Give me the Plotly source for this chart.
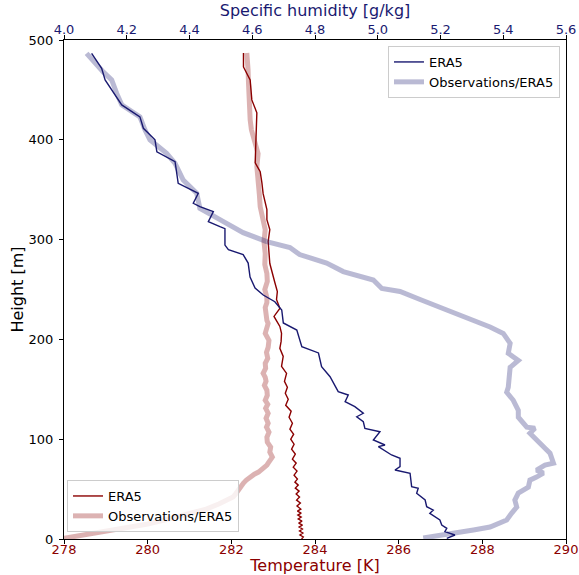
import plotly.graph_objects as go

# ---------------- data ----------------
# Temperature, ERA5 (K) vs height (m)
temp_era5_h = [0, 2, 4, 6, 8, 10, 12, 14, 16, 18, 20, 22, 24, 26, 28, 30, 33, 36, 39, 42, 45, 48,
               51, 54, 57, 60, 64, 68, 72, 76, 80, 85, 90, 95, 100, 105, 110, 116, 122, 128, 134,
               140, 146, 152, 158, 166, 173, 183, 191, 198, 206, 213, 223, 231, 240, 248, 257, 266,
               276, 287, 298, 310, 320, 330, 346, 357, 368, 377, 390, 405, 415, 427, 440, 450, 460,
               473, 487]
temp_era5 = [283.68, 283.72, 283.64, 283.71, 283.63, 283.70, 283.62, 283.70, 283.61, 283.69, 283.60,
             283.67, 283.59, 283.67, 283.58, 283.66, 283.57, 283.65, 283.56, 283.63, 283.55, 283.62,
             283.53, 283.60, 283.52, 283.58, 283.50, 283.57, 283.48, 283.55, 283.46, 283.53, 283.44,
             283.50, 283.42, 283.49, 283.40, 283.46, 283.38, 283.43, 283.30, 283.36, 283.29, 283.34,
             283.27, 283.32, 283.20, 283.24, 283.16, 283.19, 283.20, 283.16, 283.02, 283.16, 283.08,
             283.10, 283.04, 282.98, 282.92, 282.90, 282.88, 282.92, 282.85, 282.85, 282.76, 282.73,
             282.69, 282.57, 282.58, 282.60, 282.60, 282.61, 282.49, 282.47, 282.45, 282.29, 282.29]

# Temperature, observations (K) vs height (m)
temp_obs_h = [0, 2, 5, 10, 15, 20, 25, 30, 35, 40, 42, 45, 49, 52, 56, 59, 62, 65, 67, 70, 74, 76,
              79, 82, 87, 92, 97, 102, 107, 112, 116, 121, 126, 131, 135, 139, 144, 149, 154, 158,
              162, 166, 171, 176, 181, 187, 192, 199, 206, 212, 216, 219, 225, 232, 237, 242, 250,
              258, 266, 275, 286, 298, 310, 320, 333, 345, 360, 373, 386, 400, 410, 420, 430, 440,
              457, 470, 487]
temp_obs = [277.9, 278.2, 278.6, 279.4, 280.0, 280.5, 281.0, 281.4, 281.7, 281.95, 282.04, 282.10,
            282.16, 282.20, 282.29, 282.36, 282.45, 282.55, 282.65, 282.75, 282.85, 282.88, 282.95,
            282.98, 282.92, 282.94, 282.86, 282.85, 282.90, 282.84, 282.88, 282.83, 282.88, 282.82,
            282.87, 282.81, 282.86, 282.85, 282.79, 282.83, 282.81, 282.76, 282.82, 282.81, 282.87,
            282.84, 282.88, 282.90, 282.81, 282.86, 282.88, 282.85, 282.82, 282.81, 282.85, 282.85,
            282.80, 282.86, 282.85, 282.80, 282.81, 282.78, 282.81, 282.76, 282.69, 282.67, 282.64,
            282.61, 282.64, 282.53, 282.48, 282.45, 282.44, 282.40, 282.41, 282.40, 282.37]

# Specific humidity, ERA5 (g/kg) vs height (m)
hum_era5_h = [0.7, 4, 7.3, 10.7, 14, 19, 25.7, 29, 32.4, 39.1, 45.9, 50.9, 52.5, 65.9, 69.1, 72.5,
              80.9, 84.2, 92.5, 94.2, 99.2, 107.5, 110.9, 117.5, 122.5, 126, 132.6, 137.6, 144.3,
              147.6, 162.6, 172.6, 186.4, 192.7, 209.4, 216.5, 229.5, 237.8, 244.5, 251.5, 262.5,
              276.5, 285, 290, 294.5, 311, 313, 318, 328, 333, 336.4, 346.4, 356.4, 378, 388, 400,
              411.5, 423, 435, 445, 460, 471.6, 486.6]
hum_era5 = [5.22, 5.246, 5.214, 5.22, 5.204, 5.198, 5.166, 5.177, 5.156, 5.151, 5.124, 5.129, 5.108,
            5.103, 5.055, 5.071, 5.071, 5.044, 5.002, 5.023, 4.986, 5.007, 4.959, 4.954, 4.933,
            4.954, 4.927, 4.896, 4.906, 4.874, 4.848, 4.821, 4.811, 4.758, 4.742, 4.699, 4.694,
            4.672, 4.635, 4.609, 4.593, 4.587, 4.571, 4.524, 4.513, 4.513, 4.497, 4.46, 4.476,
            4.433, 4.412, 4.428, 4.364, 4.354, 4.296, 4.29, 4.253, 4.242, 4.184, 4.163, 4.131,
            4.12, 4.088]

# Specific humidity, observations (g/kg) vs height (m)
hum_obs_h = [1, 3, 6, 9, 12, 17, 19, 26, 32, 39, 46, 52, 59, 62, 66, 69, 74, 76, 86, 91, 99, 106,
             111, 112, 122, 129, 139, 147, 152, 172, 179, 186, 196, 206, 212.5, 221, 229.5, 240,
             248, 251, 259.5, 268, 276.5, 285, 292, 298, 307, 320, 331.4, 346.4, 359.7, 376.4,
             386.5, 400, 410, 423, 435, 446.5, 460, 468, 480, 486.6]
hum_obs = [5.145, 5.19, 5.241, 5.305, 5.358, 5.39, 5.411, 5.427, 5.443, 5.437, 5.448, 5.48, 5.485,
           5.506, 5.528, 5.506, 5.533, 5.56, 5.549, 5.533, 5.506, 5.485, 5.501, 5.475, 5.448,
           5.448, 5.432, 5.411, 5.416, 5.422, 5.448, 5.416, 5.422, 5.40, 5.358, 5.284, 5.22,
           5.135, 5.071, 5.013, 4.986, 4.89, 4.837, 4.751, 4.72, 4.646, 4.571, 4.497, 4.433,
           4.423, 4.38, 4.354, 4.327, 4.274, 4.258, 4.242, 4.184, 4.168, 4.152, 4.125, 4.093,
           4.072]

temp_ticks = [278, 280, 282, 284, 286, 288, 290]
hum_ticks = [4.0, 4.2, 4.4, 4.6, 4.8, 5.0, 5.2, 5.4, 5.6]
height_ticks = [0, 100, 200, 300, 400, 500]

# ---------------- style ----------------
RED = "#8b0000"
RED_A = "rgba(139,0,0,0.3)"
BLUE = "#191970"
BLUE_A = "rgba(25,25,112,0.3)"
FONT = "DejaVu Sans"

fig = go.Figure()
fig.add_trace(go.Scatter(x=temp_era5, y=temp_era5_h, mode="lines", name="ERA5",
                         line=dict(color=RED, width=1.4), xaxis="x", yaxis="y", legend="legend2"))
fig.add_trace(go.Scatter(x=temp_obs, y=temp_obs_h, mode="lines", name="Observations/ERA5",
                         line=dict(color=RED_A, width=5), xaxis="x", yaxis="y", legend="legend2"))
fig.add_trace(go.Scatter(x=hum_era5, y=hum_era5_h, mode="lines", name="ERA5",
                         line=dict(color=BLUE, width=1.4), xaxis="x2", yaxis="y", legend="legend"))
fig.add_trace(go.Scatter(x=hum_obs, y=hum_obs_h, mode="lines", name="Observations/ERA5",
                         line=dict(color=BLUE_A, width=5), xaxis="x2", yaxis="y", legend="legend"))

axis_common = dict(showgrid=False, zeroline=False, showline=True, linecolor="black", linewidth=1.1,
                   ticks="outside", ticklen=4, tickwidth=1.1, tickcolor="black")

fig.update_layout(
    width=579, height=575,
    margin=dict(l=64, r=13, t=40, b=36, autoexpand=False),
    paper_bgcolor="white", plot_bgcolor="white",
    font=dict(family=FONT, size=13, color="black"),
    xaxis=dict(range=[278, 290], tickvals=temp_ticks, ticktext=[str(t) for t in temp_ticks],
               tickfont=dict(color=RED, size=13), ticklabelstandoff=-6,
               title=dict(text="Temperature [K]", font=dict(color=RED, size=16), standoff=5),
               **axis_common),
    xaxis2=dict(range=[4.0, 5.6], tickvals=hum_ticks, ticktext=[f"{t:.1f}" for t in hum_ticks],
                overlaying="x", side="top", anchor="y", ticklabelstandoff=-4,
                tickfont=dict(color=BLUE, size=13),
                title=dict(text="Specific humidity [g/kg]", font=dict(color=BLUE, size=16), standoff=1),
                **axis_common),
    yaxis=dict(range=[0, 500], tickvals=height_ticks, mirror=True, ticklabelstandoff=3,
               title=dict(text="Height [m]", font=dict(size=16), standoff=0),
               **axis_common),
    legend=dict(x=0.988, y=0.988, xanchor="right", yanchor="top",
                bgcolor="rgba(255,255,255,0.8)", bordercolor="#cccccc", borderwidth=1,
                font=dict(size=13, family=FONT), tracegroupgap=0),
    legend2=dict(x=0.006, y=0.014, xanchor="left", yanchor="bottom",
                 bgcolor="rgba(255,255,255,0.8)", bordercolor="#cccccc", borderwidth=1,
                 font=dict(size=13, family=FONT), tracegroupgap=0),
)

fig.write_html("out.html")
